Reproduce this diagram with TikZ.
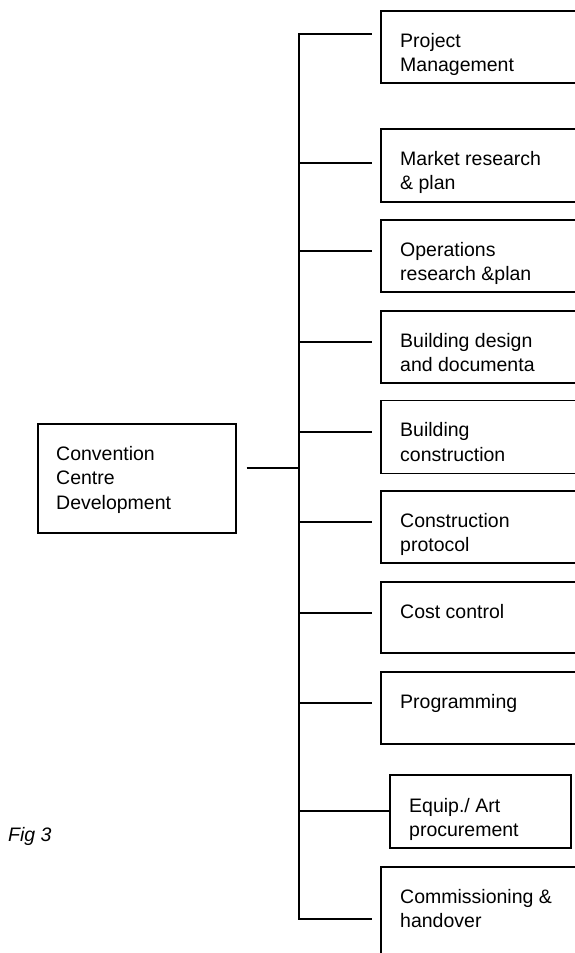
\documentclass[tikz,border=0pt]{standalone}
\usepackage{fontspec}
\setmainfont{Liberation Sans}
\begin{document}
\begin{tikzpicture}[x=1pt,y=-1pt,
  wbs/.style={draw=black,line width=1.5pt,anchor=north west,inner sep=0pt,minimum width=240pt},
  lbl/.style={anchor=north west,inner sep=0pt,align=left,font=\fontsize{19.5}{24.5}\selectfont,text=black},
  conn/.style={draw=black,line width=1.5pt}]
\useasboundingbox (0,0) rectangle (575,953);
\clip (0,0) rectangle (575,953);
% main box
\node[wbs,minimum width=198pt,minimum height=109pt] (main) at (37,423) {};
\node[lbl] (tmain) at ([shift={(19pt,-23pt)}]main.north west) {Convention\\Centre\\Development};
% child boxes
\node[wbs,minimum height=72pt] (b1) at (380,10) {};
\node[wbs,minimum height=73pt] (b2) at (380,128) {};
\node[wbs,minimum height=72pt] (b3) at (380,219) {};
\node[wbs,minimum height=72pt] (b4) at (380,310) {};
\node[wbs,minimum height=73pt] (b5) at (380,399.5) {};
\node[wbs,minimum height=72pt] (b6) at (380,490) {};
\node[wbs,minimum height=71pt] (b7) at (380,581) {};
\node[wbs,minimum height=72pt] (b8) at (380,671) {};
\node[wbs,minimum width=181pt,minimum height=73pt] (b9) at (389,774) {};
\node[wbs,minimum height=120pt] (b10) at (380,866) {};
% labels
\node[lbl] (t1) at ([shift={(20pt,-23pt)}]b1.north west) {Project\\Management};
\node[lbl] (t2) at ([shift={(20pt,-23pt)}]b2.north west) {Market research\\\& plan};
\node[lbl] (t3) at ([shift={(20pt,-23pt)}]b3.north west) {Operations\\research \&plan};
\node[lbl] (t4) at ([shift={(20pt,-23pt)}]b4.north west) {Building design\\and documenta};
\node[lbl] (t5) at ([shift={(20pt,-23pt)}]b5.north west) {Building\\construction};
\node[lbl] (t6) at ([shift={(20pt,-23pt)}]b6.north west) {Construction\\protocol};
\node[lbl] (t7) at ([shift={(20pt,-23pt)}]b7.north west) {Cost control};
\node[lbl] (t8) at ([shift={(20pt,-23pt)}]b8.north west) {Programming};
\node[lbl] (t9) at ([shift={(20pt,-24pt)}]b9.north west) {Equip./ Art\\procurement};
\node[lbl] (t10) at ([shift={(20pt,-23pt)}]b10.north west) {Commissioning \&\\handover};
\node[lbl,font=\fontsize{19.5}{24.5}\selectfont\itshape] (fig) at (8,827) {Fig 3};
% trunk junctions
\coordinate (j1) at (299,34);
\coordinate (j2) at (299,163);
\coordinate (j3) at (299,251);
\coordinate (j4) at (299,342);
\coordinate (j5) at (299,432);
\coordinate (j6) at (299,522);
\coordinate (j7) at (299,613);
\coordinate (j8) at (299,703);
\coordinate (j9) at (299,811);
\coordinate (j10) at (299,919);
\coordinate (jm) at (299,468);
% connectors
\draw[conn,line cap=rect] (j1) -- (j10);
\draw[conn] ([xshift=10pt]main.east |- jm) -- (jm);
\foreach \i in {1,...,8,10}{
  \draw[conn] (j\i) -- ([xshift=-8pt]b\i.west |- j\i);
}
\draw[conn] (j9) -- (b9.west |- j9);
\end{tikzpicture}
\end{document}
